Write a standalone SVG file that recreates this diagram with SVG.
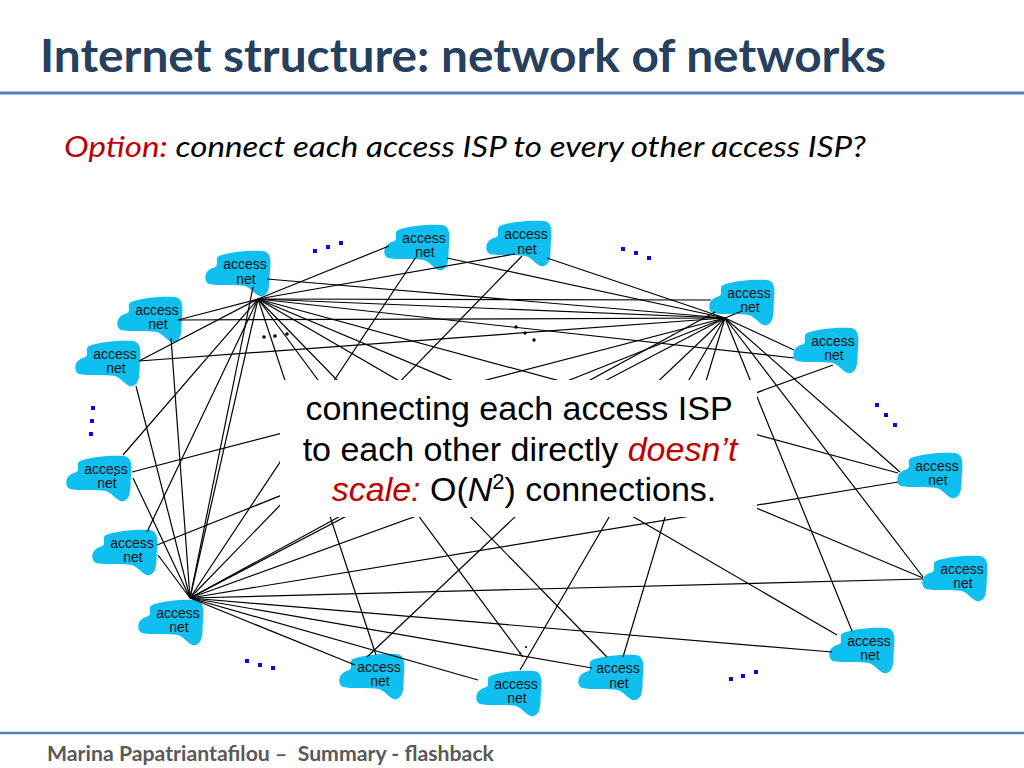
<svg xmlns="http://www.w3.org/2000/svg" xmlns:xlink="http://www.w3.org/1999/xlink" width="1024" height="768" viewBox="0 0 1024 768">
<defs>
<style>
.cl{fill:#0FBFF0;}
.nt{font-family:"Liberation Sans",Arial,sans-serif;font-size:14px;fill:#111;text-anchor:middle;}
.ln line{stroke:#000;stroke-width:1.2;}
.bd{fill:#0A0AE0;}
.kd{fill:#000;}
.big{font-family:"Liberation Sans",Arial,sans-serif;font-size:34px;fill:#000;text-anchor:middle;}
.red{fill:#C00000;font-style:italic;}
</style>
<path id="cloud" d="M 14,5 C 25,0 50,-1 58,0 C 66,1 66,10 65,20 C 64,30 66,42 58,45 C 52,47 48,38 40,35 C 30,33 12,35 4,33 C -1,31 -1,22 4,19 C 8,16 12,17 12,13 C 12,9 11,7 14,5 Z"/>
</defs>
<rect width="1024" height="768" fill="#fff"/>
<text x="40" y="72" font-family="Lato,'Open Sans',sans-serif" font-weight="bold" font-size="45" fill="#26405F" textLength="846" lengthAdjust="spacingAndGlyphs">Internet structure: network of networks</text>
<line x1="0" y1="93" x2="1024" y2="93" stroke="#4F81BD" stroke-width="3"/>
<text x="64" y="157" font-family="Lato,'Open Sans',sans-serif" font-style="italic" font-size="28" fill="#000" textLength="802" lengthAdjust="spacingAndGlyphs"><tspan fill="#C00000">Option:</tspan> connect each access ISP to every other access ISP?</text>

<g id="nodes-clouds">
<g id="n1"><use xlink:href="#cloud" class="cl" x="384" y="225"/><text class="nt" x="424" y="243">access</text><text class="nt" x="425" y="257">net</text></g>
<g id="n2"><use xlink:href="#cloud" class="cl" x="486" y="221"/><text class="nt" x="526" y="239">access</text><text class="nt" x="527" y="254">net</text></g>
<g id="n3"><use xlink:href="#cloud" class="cl" x="205" y="251"/><text class="nt" x="245" y="269">access</text><text class="nt" x="246" y="284">net</text></g>
<g id="n4"><use xlink:href="#cloud" class="cl" x="117" y="297"/><text class="nt" x="157" y="315">access</text><text class="nt" x="158" y="329">net</text></g>
<g id="n5"><use xlink:href="#cloud" class="cl" x="75" y="341"/><text class="nt" x="115" y="359">access</text><text class="nt" x="116" y="373">net</text></g>
<g id="n6"><use xlink:href="#cloud" class="cl" x="709" y="280"/><text class="nt" x="749" y="298">access</text><text class="nt" x="750" y="312">net</text></g>
<g id="n7"><use xlink:href="#cloud" class="cl" x="793" y="328"/><text class="nt" x="833" y="346">access</text><text class="nt" x="834" y="360">net</text></g>
<g id="n8"><use xlink:href="#cloud" class="cl" x="66" y="456"/><text class="nt" x="106" y="474">access</text><text class="nt" x="107" y="488">net</text></g>
<g id="n9"><use xlink:href="#cloud" class="cl" x="897" y="453"/><text class="nt" x="937" y="471">access</text><text class="nt" x="938" y="485">net</text></g>
<g id="n10"><use xlink:href="#cloud" class="cl" x="92" y="530"/><text class="nt" x="132" y="548">access</text><text class="nt" x="133" y="562">net</text></g>
<g id="n11"><use xlink:href="#cloud" class="cl" x="138" y="600"/><text class="nt" x="178" y="618">access</text><text class="nt" x="179" y="632">net</text></g>
<g id="n12"><use xlink:href="#cloud" class="cl" x="922" y="556"/><text class="nt" x="962" y="574">access</text><text class="nt" x="963" y="588">net</text></g>
<g id="n13"><use xlink:href="#cloud" class="cl" x="829" y="628"/><text class="nt" x="869" y="646">access</text><text class="nt" x="870" y="660">net</text></g>
<g id="n14"><use xlink:href="#cloud" class="cl" x="339" y="654"/><text class="nt" x="379" y="672">access</text><text class="nt" x="380" y="686">net</text></g>
<g id="n15"><use xlink:href="#cloud" class="cl" x="578" y="655"/><text class="nt" x="618" y="673">access</text><text class="nt" x="619" y="688">net</text></g>
<g id="n16"><use xlink:href="#cloud" class="cl" x="476" y="671"/><text class="nt" x="516" y="689">access</text><text class="nt" x="517" y="703">net</text></g>
</g>

<g id="connectors" class="ln">
<line x1="258" y1="299" x2="389" y2="246"/>
<line x1="258" y1="299" x2="515" y2="254"/>
<line x1="267" y1="279" x2="725" y2="318"/>
<line x1="447" y1="258" x2="725" y2="318"/>
<line x1="547" y1="258" x2="725" y2="318"/>
<line x1="258" y1="299" x2="711" y2="300"/>
<line x1="258" y1="299" x2="725" y2="318"/>
<line x1="178" y1="320" x2="725" y2="318"/>
<line x1="139" y1="361" x2="725" y2="318"/>
<line x1="258" y1="299" x2="794" y2="358"/>
<line x1="725" y1="318" x2="742" y2="311"/>
<line x1="725" y1="318" x2="794" y2="350"/>
<line x1="258" y1="299" x2="178" y2="320"/>
<line x1="258" y1="299" x2="139" y2="361"/>
<line x1="416" y1="257" x2="190" y2="598"/>
<line x1="522" y1="256" x2="190" y2="598"/>
<line x1="253" y1="287" x2="190" y2="598"/>
<line x1="171" y1="338" x2="190" y2="598"/>
<line x1="136" y1="386" x2="190" y2="598"/>
<line x1="258" y1="299" x2="147" y2="532"/>
<line x1="258" y1="299" x2="190" y2="598"/>
<line x1="123" y1="455" x2="258" y2="299"/>
<line x1="258" y1="299" x2="376" y2="655"/>
<line x1="258" y1="299" x2="523" y2="657"/>
<line x1="258" y1="299" x2="923" y2="578"/>
<line x1="258" y1="299" x2="898" y2="473"/>
<line x1="258" y1="299" x2="837" y2="635"/>
<line x1="258" y1="299" x2="607" y2="657"/>
<line x1="725" y1="318" x2="132" y2="472"/>
<line x1="725" y1="318" x2="190" y2="598"/>
<line x1="725" y1="318" x2="367" y2="657"/>
<line x1="725" y1="318" x2="520" y2="670"/>
<line x1="725" y1="318" x2="623" y2="657"/>
<line x1="725" y1="318" x2="852" y2="631"/>
<line x1="725" y1="318" x2="900" y2="472"/>
<line x1="725" y1="318" x2="923" y2="577"/>
<line x1="157" y1="545" x2="725" y2="318"/>
<line x1="833" y1="365" x2="190" y2="598"/>
<line x1="715" y1="312" x2="190" y2="598"/>
<line x1="190" y1="598" x2="898" y2="482"/>
<line x1="190" y1="598" x2="923" y2="579"/>
<line x1="190" y1="598" x2="832" y2="652"/>
<line x1="190" y1="598" x2="592" y2="668"/>
<line x1="190" y1="598" x2="478" y2="680"/>
<line x1="190" y1="598" x2="355" y2="665"/>
<line x1="133" y1="478" x2="190" y2="598"/>
<line x1="158" y1="555" x2="190" y2="598"/>
</g>

<g id="dots">
<rect class="bd" x="313" y="249" width="4" height="4"/>
<rect class="bd" x="326" y="245" width="4" height="4"/>
<rect class="bd" x="339" y="241" width="4" height="4"/>
<rect class="bd" x="621" y="247" width="4" height="4"/>
<rect class="bd" x="634" y="251" width="4" height="4"/>
<rect class="bd" x="647" y="256" width="4" height="4"/>
<rect class="bd" x="91" y="406" width="4" height="4"/>
<rect class="bd" x="90" y="419" width="4" height="4"/>
<rect class="bd" x="89" y="432" width="4" height="4"/>
<rect class="bd" x="875" y="403" width="4" height="4"/>
<rect class="bd" x="884" y="413" width="4" height="4"/>
<rect class="bd" x="893" y="423" width="4" height="4"/>
<rect class="bd" x="245" y="659" width="4" height="4"/>
<rect class="bd" x="258" y="663" width="4" height="4"/>
<rect class="bd" x="271" y="666" width="4" height="4"/>
<rect class="bd" x="729" y="677" width="4" height="4"/>
<rect class="bd" x="741" y="674" width="4" height="4"/>
<rect class="bd" x="754" y="670" width="4" height="4"/>
<circle class="kd" cx="264" cy="337" r="1.8"/>
<circle class="kd" cx="275" cy="336" r="1.8"/>
<circle class="kd" cx="287" cy="334" r="1.8"/>
<circle class="kd" cx="516" cy="327" r="1.7"/>
<circle class="kd" cx="525" cy="333" r="1.7"/>
<circle class="kd" cx="534" cy="340" r="1.7"/>
<circle class="kd" cx="520" cy="653" r="1.1"/>
<circle class="kd" cx="526" cy="647" r="1.1"/>
<circle class="kd" cx="115" cy="475" r="1.1"/>
</g>

<g id="note">
<rect x="280" y="380" width="477" height="137" fill="#fff"/>
<text class="big" x="519" y="420">connecting each access ISP</text>
<text class="big" x="520" y="461">to each other directly <tspan class="red">doesn’t</tspan></text>
<text class="big" x="524" y="501"><tspan class="red">scale:</tspan> O(<tspan font-style="italic">N</tspan><tspan font-size="22" dy="-12">2</tspan><tspan dy="12">) connections.</tspan></text>
</g>

<line x1="0" y1="733" x2="1024" y2="733" stroke="#4F81BD" stroke-width="2.5"/>
<text x="47" y="761" font-family="Lato,'Open Sans',sans-serif" font-weight="bold" font-size="20" fill="#595959" textLength="447" lengthAdjust="spacingAndGlyphs">Marina Papatriantafilou –&#160; Summary - flashback</text>
</svg>
